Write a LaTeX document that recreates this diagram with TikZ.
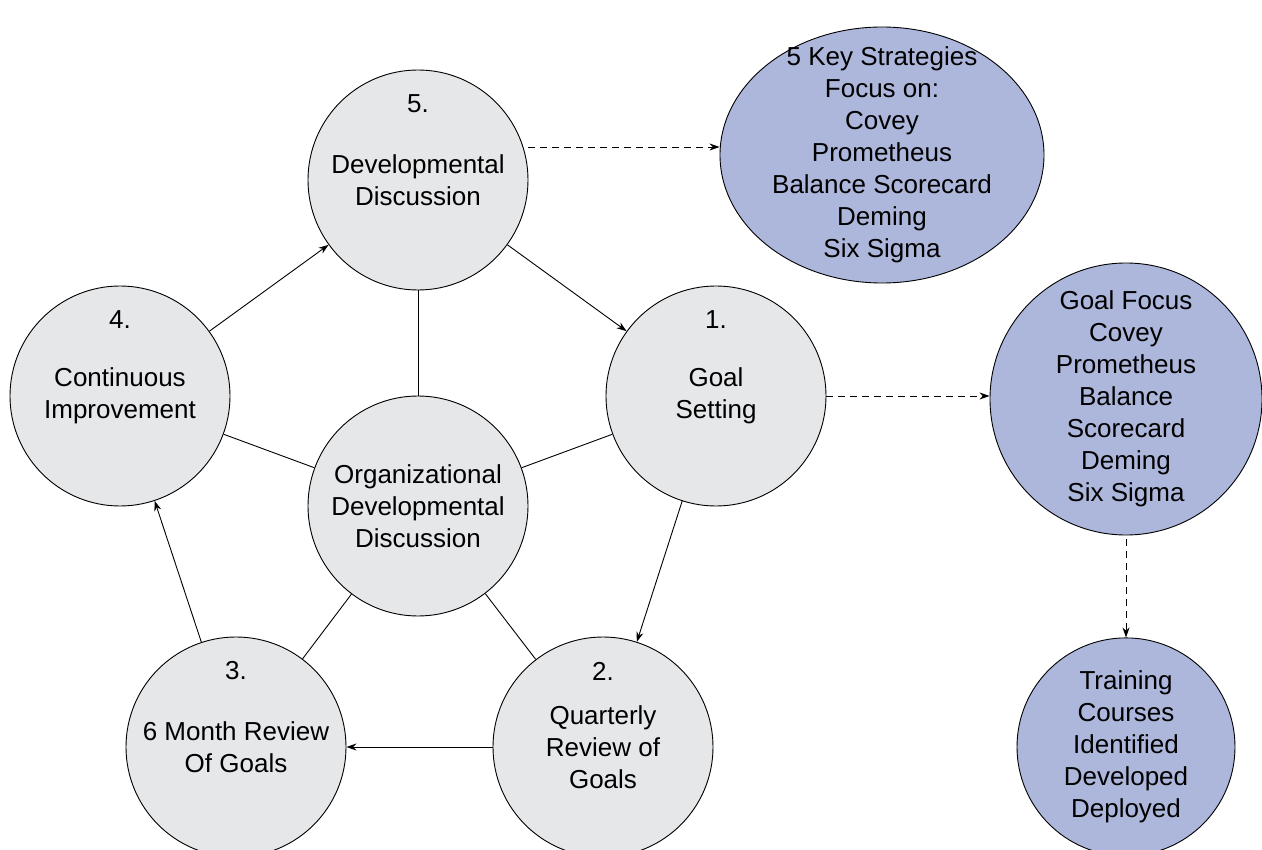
\documentclass[tikz,border=0pt]{standalone}
\usepackage{fontspec}
\setmainfont{Liberation Sans}
\usetikzlibrary{arrows.meta,shapes.geometric,positioning}

\definecolor{stagegray}{RGB}{230,231,233}
\definecolor{focusblue}{RGB}{173,182,219}

\tikzset{
  stage/.style={circle,draw,fill=stagegray,minimum size=220pt,inner sep=0pt,align=center},
  num/.style={label={[yshift=76pt]center:#1}},
  focus/.style={draw,fill=focusblue,inner sep=0pt},
  inside/.style={label={[align=center]center:{#1}}},
  dashed arrow/.style={->,dash pattern=on 7pt off 5pt}
}

\begin{document}
\begin{tikzpicture}[x=1pt,y=-1pt,line width=0.9pt,>={Stealth[length=10pt,width=7pt]},
                    font=\fontsize{26}{32}\selectfont]
        \useasboundingbox (0,0) rectangle (1262,850);

        % the cycle
        \node[stage]        (org)   at (418,506) {Organizational\\Developmental\\Discussion};
        \node[stage,num=1.] (goal)  at (716,396) {Goal\\Setting};
        \node[stage,num=2.] (quart) at (603,747) {Quarterly\\Review of\\Goals};
        \node[stage,num=3.] (six)   at (236,747) {6 Month Review\\Of Goals};
        \node[stage,num=4.] (cont)  at (120,396) {Continuous\\Improvement};
        \node[stage,num=5.] (dev)   at (418,180) {Developmental\\Discussion};

        % strategies
        \node[focus,ellipse,minimum width=324pt,minimum height=256pt,
              inside={5 Key Strategies\\Focus on:\\Covey\\Prometheus\\Balance Scorecard\\Deming\\Six Sigma}]
              (keys) at (882,155) {};
        \node[focus,circle,minimum size=272pt,
              inside={Goal Focus\\Covey\\Prometheus\\Balance\\Scorecard\\Deming\\Six Sigma}]
              (gfocus) at (1126,399) {};
        \node[focus,circle,minimum size=218pt,
              inside={Training\\Courses\\Identified\\Developed\\Deployed}]
              (train) [below=102pt of gfocus] {};

        \path[->]
                  (goal)  edge (quart)
                  (quart) edge (six)
                  (six)   edge (cont)
                  (cont)  edge (dev)
                  (dev)   edge (goal);

        \path     (org) edge (goal)
                        edge (quart)
                        edge (six)
                        edge (cont)
                        edge (dev);

        \draw[dashed arrow] ([yshift=33pt]dev.east) -- ([yshift=8pt]keys.west);
        \draw[dashed arrow] (goal.east) -- (goal.east -| gfocus.west);
        \draw[dashed arrow] ([yshift=-4pt]gfocus.south) -- (train.north);
\end{tikzpicture}
\end{document}
